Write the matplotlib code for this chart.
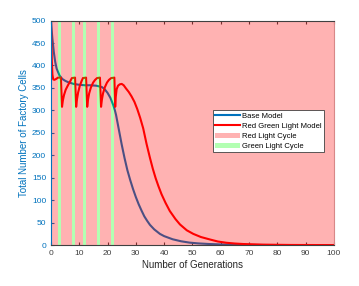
import matplotlib
matplotlib.use("Agg")
import matplotlib.pyplot as plt

plt.rcParams["font.family"] = ["Liberation Sans", "DejaVu Sans"]

# Base model curve
base_x = [0, 0.25, 0.5, 1, 1.5, 2, 3, 4, 5, 6, 7, 8, 10, 12, 14, 16, 18, 19, 20,
          21, 22, 22.6, 23, 24, 25, 26, 27, 28, 29, 30, 31, 32, 33, 34, 35,
          36.5, 38.5, 40, 43, 46, 49, 52, 56, 60, 65, 70, 80, 100]
base_y = [500, 478, 460, 430, 408, 393, 378, 370, 366, 363, 361, 359, 357, 356,
          356, 355, 352, 347, 339, 328, 312, 300, 290, 257, 224, 194, 167, 145,
          125, 107, 91, 77, 64, 54, 45, 35, 25, 20, 13, 8.5, 5.5, 3.8, 2.4,
          1.5, 0.8, 0.4, 0.1, 0]

# Red/green light model curve
rg_x = [0, 0.15, 0.3, 0.5, 0.8, 1.2, 1.8, 2.5, 3.5, 3.7, 3.9, 4.2, 4.6, 5.2,
        6.0, 6.8, 7.4, 8.5, 8.7, 8.9, 9.2, 9.6, 10.2, 10.8, 11.3, 12.4, 12.6,
        12.8, 13.1, 13.5, 14.1, 14.9, 15.6, 16.3, 17.3, 17.5, 17.7, 18.0, 18.4,
        19.0, 19.8, 20.5, 21.3, 22.4, 22.55, 22.7, 22.9, 23.2, 23.7, 24.3, 25.0,
        25.7, 26.5, 27.5, 28.5, 29.5, 30.5, 31.5, 32.6, 33.8, 35, 36, 37, 38,
        39.1, 40.5, 42, 44, 45.6, 48, 50.3, 53, 56.2, 59, 62, 65, 68, 75, 85, 100]
rg_y = [500, 455, 410, 380, 369, 368, 370, 373, 373, 340, 308, 322, 334, 346,
        356, 365, 372, 373, 340, 308, 325, 340, 355, 365, 372, 373, 340, 308,
        324, 338, 351, 362, 368, 372, 373, 340, 308, 324, 338, 351, 362, 368,
        372, 373, 340, 308, 330, 347, 355, 358, 359, 356, 349, 341, 331, 319,
        303, 284, 260, 225, 194, 170, 149, 131, 113, 94, 76, 58, 46, 33, 25,
        18, 12.5, 8, 5.2, 3.5, 2.4, 1, 0.3, 0]

# Green light windows (start, end)
green_start = [2.5, 7.4, 11.3, 16.3, 21.3]
green_end = [3.5, 8.5, 12.4, 17.3, 22.4]

blue = "#0072BD"

fig = plt.figure(figsize=(3.59, 2.86), dpi=100)
ax = fig.add_axes([0.142, 0.143, 0.788, 0.785])

ax.plot(base_x, base_y, color=blue, lw=1.5, label="Base Model", zorder=2)
ax.plot(rg_x, rg_y, color="red", lw=1.5, label="Red Green Light Model", zorder=2)

# red windows are the gaps between green windows
red_start = [0] + green_end
red_end = green_start + [100]
for i, (a, b) in enumerate(zip(red_start, red_end)):
    ax.axvspan(a, b, color="red", alpha=0.3, lw=0, zorder=3,
               label="Red Light Cycle" if i == 0 else None)
for i, (a, b) in enumerate(zip(green_start, green_end)):
    ax.axvspan(a, b, color="lime", alpha=0.3, lw=0, zorder=3,
               label="Green Light Cycle" if i == 0 else None)

ax.set_xlim(0, 100)
ax.set_ylim(0, 500)
ax.set_xticks(range(0, 101, 10))
ax.set_yticks(range(0, 501, 50))
ax.tick_params(direction="in", length=2.5, labelsize=6, top=True, colors="#404040")
ax.tick_params(axis="y", colors=blue, right=False)
ax.set_xlabel("Number of Generations", fontsize=7, color="#262626", labelpad=2)
ax.set_ylabel("Total Number of Factory Cells", fontsize=7, color=blue, labelpad=2)

ax.spines["left"].set_color(blue)
ax.spines["bottom"].set_color("#404040")
ax.spines["top"].set_color("#404040")
ax.spines["right"].set_color("#d88888")
for s in ax.spines.values():
    s.set_linewidth(0.8)
    s.set_zorder(4)

leg = ax.legend(loc="upper left", bbox_to_anchor=(0.571, 0.6), fontsize=5.5,
                fancybox=False, framealpha=1, edgecolor="#404040",
                handlelength=3.3, borderpad=0.3, labelspacing=0.35,
                handletextpad=0.3, borderaxespad=0)
leg.get_frame().set_linewidth(0.6)
leg.set_zorder(5)

fig.savefig("out.png", dpi=100, facecolor="white")
